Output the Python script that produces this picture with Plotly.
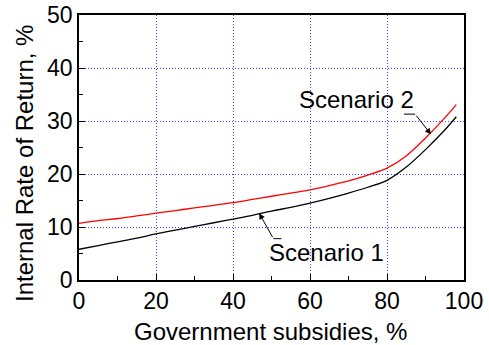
import plotly.graph_objects as go

subsidy = [0, 5, 10, 15, 20, 25, 30, 35, 40, 45, 50, 55, 60, 65, 70, 75, 80, 85, 90, 95, 98]
scenario1 = [5.8, 6.5, 7.2, 7.9, 8.7, 9.4, 10.1, 10.8, 11.5, 12.2, 13.0, 13.7, 14.5, 15.4, 16.4, 17.5, 18.8, 21.3, 24.6, 28.3, 30.8]
scenario2 = [10.7, 11.2, 11.6, 12.1, 12.6, 13.1, 13.6, 14.1, 14.6, 15.2, 15.8, 16.4, 17.0, 17.8, 18.7, 19.8, 21.1, 23.4, 26.8, 30.6, 33.1]
x_title = "Government subsidies, %"
y_title = "Internal Rate of Return, %"

FONT = "Liberation Sans, Arial, sans-serif"

fig = go.Figure()
fig.add_trace(go.Scatter(x=subsidy, y=scenario1, mode="lines", line=dict(color="black", width=1.3, shape="spline"), name="Scenario 1"))
fig.add_trace(go.Scatter(x=subsidy, y=scenario2, mode="lines", line=dict(color="#ff0000", width=1.3, shape="spline"), name="Scenario 2"))

# Scenario 2 label with leader
fig.add_annotation(x=72.2, y=34.1, text="Scenario 2", showarrow=False, font=dict(size=24, color="black", family=FONT))
fig.add_shape(type="line", x0=84.4, y0=31.3, x1=87.3, y1=31.3, line=dict(color="black", width=1))
fig.add_annotation(x=91.4, y=27.5, ax=87.3, ay=31.3, axref="x", ayref="y", text="", showarrow=True,
                   arrowhead=2, arrowsize=1.2, arrowwidth=1, arrowcolor="black", standoff=0)

# Scenario 1 label with leader
fig.add_annotation(x=64.2, y=5.1, text="Scenario 1", showarrow=False, font=dict(size=24, color="black", family=FONT))
fig.add_shape(type="line", x0=50.5, y0=7.8, x1=52.6, y1=7.8, line=dict(color="black", width=1))
fig.add_annotation(x=46.8, y=12.6, ax=50.5, ay=7.8, axref="x", ayref="y", text="", showarrow=True,
                   arrowhead=2, arrowsize=1.2, arrowwidth=1, arrowcolor="black", standoff=0)

# axis titles placed as paper annotations for exact positioning
fig.add_annotation(xref="paper", yref="paper", x=0.4987, y=-0.196, text=x_title, showarrow=False,
                   xanchor="center", yanchor="middle", font=dict(size=24, color="black", family=FONT))
fig.add_annotation(xref="paper", yref="paper", x=-0.140, y=0.438, text=y_title, showarrow=False, textangle=-90,
                   xanchor="center", yanchor="middle", font=dict(size=24, color="black", family=FONT))

axis_common = dict(
    showline=True, linecolor="black", linewidth=1.5, mirror=True,
    ticks="inside", ticklen=6, tickwidth=1, tickcolor="black",
    showgrid=True, gridcolor="#4040ff", gridwidth=1, griddash="1px,2px",
    zeroline=False, automargin=False,
    tickfont=dict(size=23, color="black", family=FONT),
)

fig.update_xaxes(range=[0, 100], tickvals=[0, 20, 40, 60, 80, 100],
                 minor=dict(ticks="inside", dtick=10, ticklen=4, tickcolor="black", showgrid=False),
                 **axis_common)
fig.update_yaxes(range=[0, 50], tickvals=[0, 10, 20, 30, 40, 50],
                 minor=dict(ticks="inside", dtick=5, ticklen=4, tickcolor="black", showgrid=False),
                 **axis_common)

fig.update_layout(
    width=489, height=345,
    margin=dict(l=79, r=25, t=15, b=65),
    paper_bgcolor="white", plot_bgcolor="white",
    showlegend=False,
    font=dict(family=FONT, color="black"),
)

# remove the default 8px page margin so the figure sits at the window's corner
fig.write_html("out.html", config={"displayModeBar": False},
               post_script="document.body.style.margin='0';")
